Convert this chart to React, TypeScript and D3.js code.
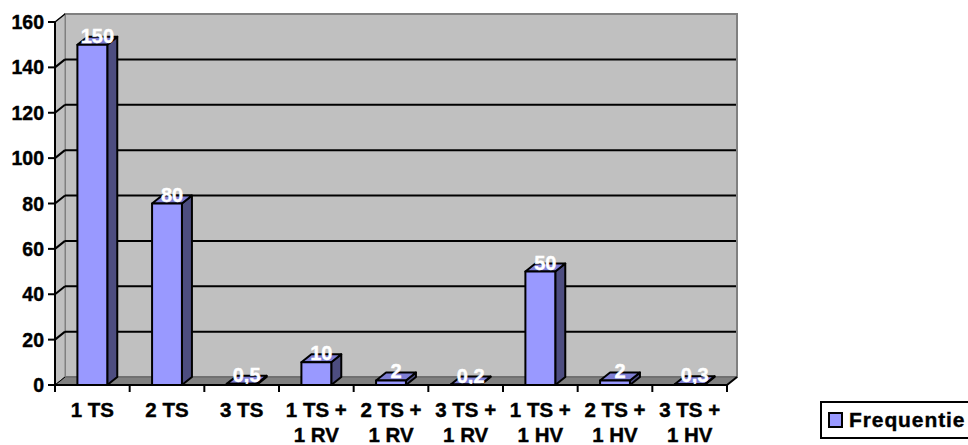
import React from "react";
import * as d3 from "d3";

const categories: string[][] = [
  ["1 TS"], ["2 TS"], ["3 TS"], ["1 TS +", "1 RV"], ["2 TS +", "1 RV"],
  ["3 TS +", "1 RV"], ["1 TS +", "1 HV"], ["2 TS +", "1 HV"], ["3 TS +", "1 HV"],
];
const values: number[] = [150, 80, 0.5, 10, 2, 0.2, 50, 2, 0.3];
const valueLabels: string[] = ["150", "80", "0,5", "10", "2", "0,2", "50", "2", "0,3"];
const yTicks: number[] = [0, 20, 40, 60, 80, 100, 120, 140, 160];
const seriesName = "Frequentie";

const W = 968, H = 445;
const x0 = 55, x1 = 727;
const DX = 10, DY = -8;
const FONT = "'Liberation Sans', Arial, sans-serif";

export default function App() {
  const y = d3.scaleLinear().domain([0, 160]).range([385, 22]);
  const band = d3.scaleBand<number>().domain(d3.range(categories.length)).range([x0, x1]).paddingInner(0).paddingOuter(0);
  const bw = band.bandwidth() * 0.4;
  const y0 = y(0), yTop = y(160);

  return (
    <svg width={W} height={H} style={{ position: "absolute", left: 0, top: 0, background: "#fff" }}>
      {/* back wall */}
      <rect x={x0 + DX} y={yTop + DY} width={x1 - x0} height={y0 - yTop} fill="#C0C0C0" stroke="#808080" strokeWidth={2} />
      {/* side wall */}
      <polygon points={`${x0},${yTop} ${x0 + DX},${yTop + DY} ${x0 + DX},${y0 + DY} ${x0},${y0}`} fill="#C0C0C0" stroke="#808080" strokeWidth={1} />
      {/* floor */}
      <polygon points={`${x0},${y0} ${x0 + DX},${y0 + DY} ${x1 + DX},${y0 + DY} ${x1},${y0}`} fill="#808080" stroke="#606060" strokeWidth={1} />
      {/* gridlines */}
      {yTicks.filter((t) => t > 0 && t < 160).map((t) => (
        <g key={t}>
          <line x1={x0} y1={y(t)} x2={x0 + DX} y2={y(t) + DY} stroke="#000" strokeWidth={2} />
          <line x1={x0 + DX} y1={y(t) + DY} x2={x1 + DX - 1} y2={y(t) + DY} stroke="#000" strokeWidth={2} />
        </g>
      ))}
      <line x1={x0} y1={y(160)} x2={x0 + DX} y2={y(160) + DY} stroke="#000" strokeWidth={1.5} />
      <line x1={x0} y1={y0} x2={x0 + DX} y2={y0 + DY} stroke="#000" strokeWidth={1} />
      {/* bars */}
      {values.map((v, i) => {
        const cx = (band(i) as number) + band.bandwidth() / 2;
        const l = cx - bw / 2, r = cx + bw / 2;
        const t = y(v);
        return (
          <g key={i} stroke="#000" strokeWidth={2} strokeLinejoin="round">
            <polygon points={`${r},${t} ${r + DX},${t + DY} ${r + DX},${y0 + DY} ${r},${y0}`} fill="#4D4D80" />
            <polygon points={`${l},${t} ${l + DX},${t + DY} ${r + DX},${t + DY} ${r},${t}`} fill="#7F7FD4" />
            <rect x={l} y={t} width={bw} height={y0 - t} fill="#9999FF" />
          </g>
        );
      })}
      {/* value labels */}
      {values.map((v, i) => {
        const cx = (band(i) as number) + band.bandwidth() / 2 + DX / 2;
        return (
          <text key={i} x={cx} y={y(v) - 2} textAnchor="middle" fill="#fff" stroke="#fff" strokeWidth={0.4} fontFamily={FONT} fontWeight="bold" fontSize={20}>
            {valueLabels[i]}
          </text>
        );
      })}
      {/* axes */}
      <line x1={x0} y1={yTop} x2={x0} y2={y0 + 7} stroke="#000" strokeWidth={2} />
      <line x1={x0} y1={y0} x2={x1} y2={y0} stroke="#000" strokeWidth={2} />
      <line x1={x1} y1={y0} x2={x1 + DX} y2={y0 + DY} stroke="#000" strokeWidth={2} />
      {yTicks.map((t) => (
        <g key={t}>
          <line x1={x0 - 7} y1={y(t)} x2={x0} y2={y(t)} stroke="#000" strokeWidth={2} />
          <text x={x0 - 11} y={y(t)} dy="0.36em" textAnchor="end" stroke="#000" strokeWidth={0.4} fontFamily={FONT} fontWeight="bold" fontSize={19.5}>{t}</text>
        </g>
      ))}
      {d3.range(categories.length + 1).map((i) => {
        const xx = x0 + i * band.bandwidth();
        return <line key={i} x1={xx} y1={y0} x2={xx} y2={y0 + 7} stroke="#000" strokeWidth={2} />;
      })}
      {categories.map((lines, i) => {
        const cx = (band(i) as number) + band.bandwidth() / 2;
        return (
          <text key={i} x={cx} textAnchor="middle" stroke="#000" strokeWidth={0.4} fontFamily={FONT} fontWeight="bold" fontSize={20.5}>
            {lines.map((ln, j) => (
              <tspan key={j} x={cx} y={417 + j * 25}>{ln}</tspan>
            ))}
          </text>
        );
      })}
      {/* legend */}
      <rect x={821} y={402} width={160} height={36} fill="#fff" stroke="#000" strokeWidth={2} />
      <rect x={829} y={413} width={13} height={14} fill="#9999FF" stroke="#000" strokeWidth={2} />
      <text x={849} y={427} stroke="#000" strokeWidth={0.4} letterSpacing={0.9} fontFamily={FONT} fontWeight="bold" fontSize={21}>{seriesName}</text>
    </svg>
  );
}
